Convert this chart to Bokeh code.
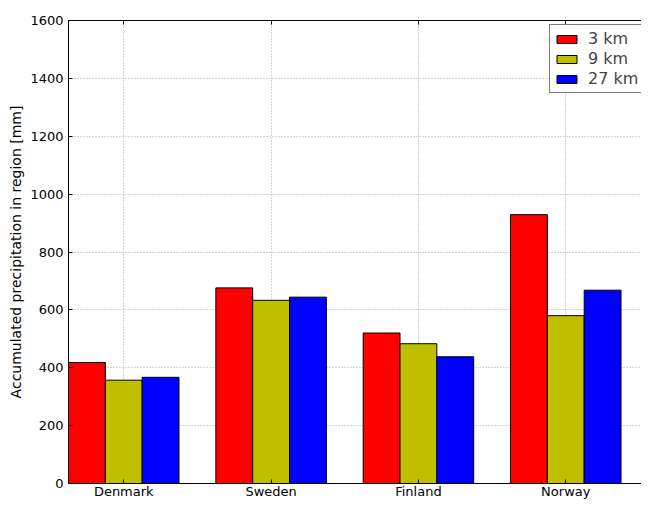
import numpy as np
from bokeh.plotting import figure
from bokeh.models import ColumnDataSource, FixedTicker, Range1d, Legend, LegendItem, LinearAxis
from bokeh.embed import file_html
from bokeh.resources import INLINE

categories = ["Denmark", "Sweden", "Finland", "Norway"]
series_names = ["3 km", "9 km", "27 km"]
vals_3km = [418, 676, 520, 929]
vals_9km = [357, 633, 483, 580]
vals_27km = [367, 644, 438, 668]
series_colors = ["#ff0000", "#bfbf00", "#0000ff"]
y_ticks = [0, 200, 400, 600, 800, 1000, 1200, 1400, 1600]

FONT = "DejaVu Sans"
bar_w = 0.25
idx = np.arange(len(categories))

p = figure(width=641, height=501, output_backend="svg", toolbar_location=None,
           x_range=Range1d(-0.375, 3.514), y_range=Range1d(0, 1600),
           min_border_left=68, min_border_top=20, min_border_right=0, min_border_bottom=0)
p.background_fill_color = "white"
p.border_fill_color = "white"
p.outline_line_color = None

renderers = []
for k, (vals, col) in enumerate(zip([vals_3km, vals_9km, vals_27km], series_colors)):
    src = ColumnDataSource(dict(x=idx + (k - 1) * bar_w, top=vals))
    r = p.vbar(x="x", top="top", width=bar_w, bottom=0, source=src,
               fill_color=col, line_color="black", line_width=1)
    renderers.append(r)

# top border with inward ticks (matplotlib style)
top_ax = LinearAxis(ticker=FixedTicker(ticks=list(idx)))
top_ax.major_label_text_alpha = 0
top_ax.major_label_text_font_size = "1px"
top_ax.major_label_standoff = 0
p.add_layout(top_ax, "above")

# axes
p.xaxis.ticker = FixedTicker(ticks=list(idx))
p.below[0].major_label_overrides = {int(i): c for i, c in zip(idx, categories)}
p.yaxis.ticker = FixedTicker(ticks=y_ticks)
for ax in (p.below[0], top_ax, p.yaxis[0]):
    ax.major_tick_in = 4
    ax.major_tick_out = 0
    ax.minor_tick_in = 0
    ax.minor_tick_out = 0
    ax.axis_line_color = "black"
    ax.major_tick_line_color = "black"
    ax.major_label_text_font = FONT
    ax.major_label_text_color = "black"
p.below[0].major_label_text_font_size = "13px"
p.yaxis.major_label_text_font_size = "13px"
p.below[0].major_label_standoff = 0
p.yaxis.major_label_standoff = 5
p.yaxis.axis_label = "Accumulated precipitation in region [mm]"
p.yaxis.axis_label_text_font = FONT
p.yaxis.axis_label_text_font_size = "14px"
p.yaxis.axis_label_text_font_style = "normal"
p.yaxis.axis_label_text_color = "black"
p.yaxis.axis_label_standoff = 3

# grid
for g in (p.xgrid, p.ygrid):
    g.grid_line_color = "#a8a8a8"
    g.grid_line_dash = "1 2"
    g.grid_line_width = 1
p.xgrid.ticker = FixedTicker(ticks=list(idx))
p.ygrid.ticker = FixedTicker(ticks=y_ticks)

legend = Legend(items=[LegendItem(label=n, renderers=[r]) for n, r in zip(series_names, renderers)],
                location=(481, 390))
legend.label_text_font = FONT
legend.label_text_font_size = "16px"
legend.glyph_width = 25
legend.glyph_height = 10
legend.label_standoff = 9
legend.padding = 4
legend.spacing = 1
legend.label_height = 16
legend.border_line_color = "black"
legend.border_line_width = 1
legend.background_fill_alpha = 1
p.add_layout(legend)

open("out.html", "w").write(file_html(p, INLINE))
